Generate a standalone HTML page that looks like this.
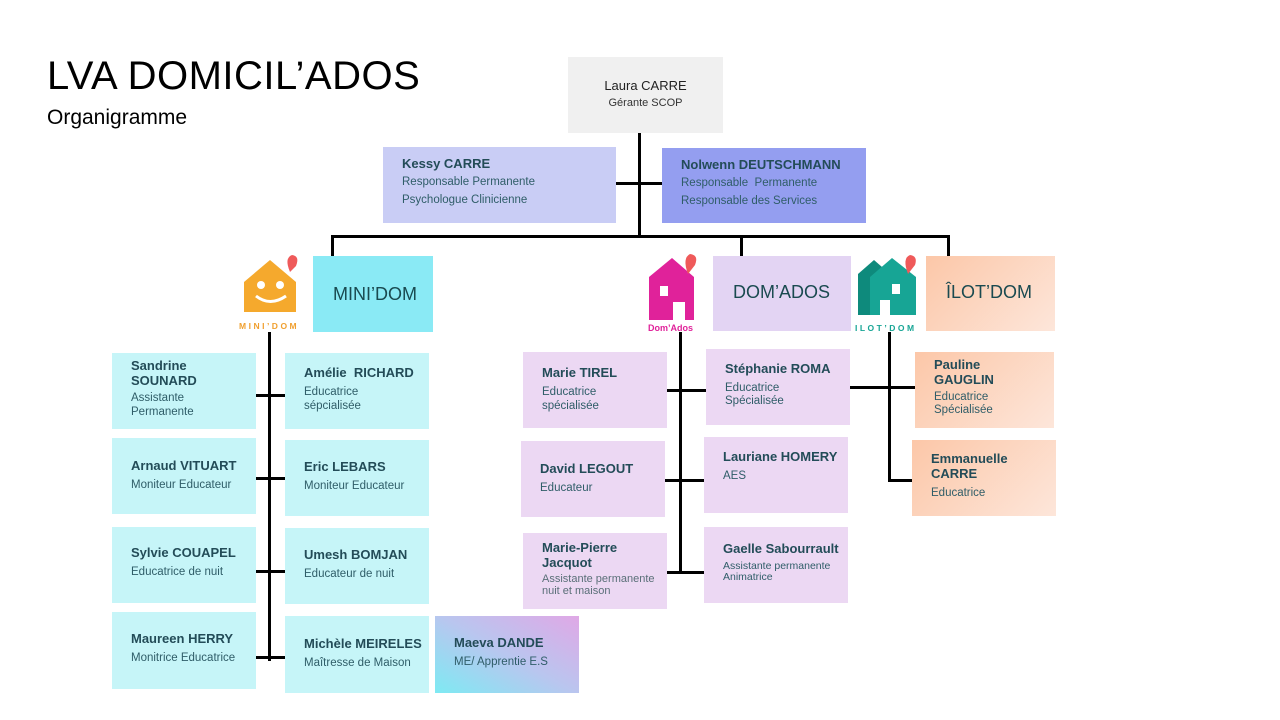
<!DOCTYPE html>
<html><head><meta charset="utf-8">
<style>
*{margin:0;padding:0;box-sizing:border-box}
body{width:1280px;height:720px;background:#fff;position:relative;overflow:hidden;font-family:"Liberation Sans",sans-serif;color:#1f4e5a}
.a{position:absolute}
.b{position:absolute;padding:0 0 0 19px}
.n{font-size:13px;font-weight:bold;color:#234c58;line-height:15px}
.s{font-size:11.5px;color:#2f5d68;line-height:14px;margin-top:5px}
.l{position:absolute;background:#000}
.cy{background:#c6f5f8}
.pu{background:#ecd8f3}
.pe{background:linear-gradient(135deg,#fcc7a8,#fde6da)}
</style></head><body>
<div class="a" style="left:47px;top:54px;font-size:40px;color:#000;letter-spacing:0.5px">LVA DOMICIL’ADOS</div>
<div class="a" style="left:47px;top:106px;font-size:21px;color:#000">Organigramme</div>

<!-- lines -->
<div class="l" style="left:638px;top:133px;width:3px;height:105px"></div>
<div class="l" style="left:616px;top:182px;width:46px;height:3px"></div>
<div class="l" style="left:331px;top:235px;width:619px;height:3px"></div>
<div class="l" style="left:331px;top:235px;width:3px;height:21px"></div>
<div class="l" style="left:740px;top:235px;width:3px;height:21px"></div>
<div class="l" style="left:947px;top:235px;width:3px;height:21px"></div>

<div class="l" style="left:268px;top:332px;width:3px;height:329px"></div>
<div class="l" style="left:256px;top:394px;width:29px;height:3px"></div>
<div class="l" style="left:256px;top:477px;width:29px;height:3px"></div>
<div class="l" style="left:256px;top:570px;width:29px;height:3px"></div>
<div class="l" style="left:256px;top:656px;width:29px;height:3px"></div>

<div class="l" style="left:679px;top:332px;width:3px;height:241px"></div>
<div class="l" style="left:667px;top:389px;width:39px;height:3px"></div>
<div class="l" style="left:665px;top:479px;width:39px;height:3px"></div>
<div class="l" style="left:667px;top:571px;width:37px;height:3px"></div>

<div class="l" style="left:888px;top:332px;width:3px;height:149px"></div>
<div class="l" style="left:850px;top:386px;width:65px;height:3px"></div>
<div class="l" style="left:888px;top:479px;width:24px;height:3px"></div>

<!-- top boxes -->
<div class="a" style="left:568px;top:57px;width:155px;height:76px;background:#f0f0f0;text-align:center">
<div class="n" style="margin-top:21px;font-weight:normal;color:#222">Laura CARRE</div><div class="s" style="margin-top:3px;font-size:11px;color:#333">Gérante SCOP</div></div>
<div class="b" style="left:383px;top:147px;width:233px;height:76px;background:#c9cdf5;padding-top:9px"><div class="n">Kessy CARRE</div><div class="s" style="line-height:18px;margin-top:2px">Responsable Permanente<br>Psychologue Clinicienne</div></div>
<div class="b" style="left:662px;top:148px;width:204px;height:75px;background:#949ef0;padding-top:9px"><div class="n">Nolwenn DEUTSCHMANN</div><div class="s" style="line-height:18px;margin-top:2px">Responsable&nbsp; Permanente<br>Responsable des Services</div></div>

<!-- section headers -->
<div class="a" style="left:313px;top:256px;width:120px;height:76px;background:#8aeaf5;font-size:18px;color:#1a4a50;padding:28px 0 0 20px">MINI’DOM</div>
<div class="a" style="left:713px;top:256px;width:138px;height:75px;background:#e3d4f3;font-size:18px;color:#1a4a50;padding:26px 0 0 20px">DOM’ADOS</div>
<div class="a pe" style="left:926px;top:256px;width:129px;height:75px;font-size:18px;color:#1a4a50;padding:26px 0 0 20px">ÎLOT’DOM</div>

<!-- logos -->
<svg class="a" style="left:236px;top:252px" width="72" height="80">
<polygon points="8,30 34,8 60,30 60,60 8,60" fill="#f5a92d"/>
<circle cx="25" cy="33" r="4" fill="#fff"/><circle cx="44" cy="33" r="4" fill="#fff"/>
<path d="M20 44 Q34 55 50 44" stroke="#fff" stroke-width="3" fill="none"/>
<path d="M54 20 Q48 6 56 3 Q64 4 60 14 Z" fill="#ef5a5a"/>
<text x="3" y="77" font-size="8.5" fill="#f0a030" letter-spacing="2.5" font-weight="bold" font-family="Liberation Sans">MINI’DOM</text>
</svg>
<svg class="a" style="left:644px;top:252px" width="66" height="82">
<polygon points="5,25 28,6 50,25 50,68 5,68" fill="#e0229a"/>
<rect x="16" y="34" width="8" height="10" fill="#fff"/><rect x="29" y="50" width="12" height="18" fill="#fff"/>
<path d="M44 22 Q38 6 46 2 Q55 3 51 13 Z" fill="#ef5a5a"/>
<text x="4" y="79" font-size="9" fill="#e0229a" font-weight="bold" font-family="Liberation Sans">Dom’Ados</text>
</svg>
<svg class="a" style="left:852px;top:252px" width="76" height="82">
<polygon points="6,22 22,8 38,22 38,63 6,63" fill="#0e8a7c"/>
<polygon points="18,25 40,6 64,25 64,63 18,63" fill="#17a595"/>
<rect x="40" y="32" width="8" height="10" fill="#fff"/><rect x="28" y="48" width="10" height="15" fill="#fff"/>
<path d="M56 22 Q50 6 58 3 Q66 4 63 13 Z" fill="#ef5a5a"/>
<text x="3" y="79" font-size="8.5" fill="#17a595" letter-spacing="2.5" font-weight="bold" font-family="Liberation Sans">ILOT’DOM</text>
</svg>

<!-- MINI'DOM -->
<div class="b cy" style="left:112px;top:353px;width:144px;height:76px;padding-top:5px"><div class="n">Sandrine<br>SOUNARD</div><div class="s" style="margin-top:3px">Assistante<br>Permanente</div></div>
<div class="b cy" style="left:112px;top:438px;width:144px;height:76px;padding-top:20px"><div class="n">Arnaud VITUART</div><div class="s">Moniteur Educateur</div></div>
<div class="b cy" style="left:112px;top:527px;width:144px;height:76px;padding-top:18px"><div class="n">Sylvie COUAPEL</div><div class="s">Educatrice de nuit</div></div>
<div class="b cy" style="left:112px;top:612px;width:144px;height:77px;padding-top:19px"><div class="n">Maureen HERRY</div><div class="s">Monitrice Educatrice</div></div>

<div class="b cy" style="left:285px;top:353px;width:144px;height:76px;padding-top:12px"><div class="n">Amélie&nbsp; RICHARD</div><div class="s">Educatrice<br>sépcialisée</div></div>
<div class="b cy" style="left:285px;top:440px;width:144px;height:76px;padding-top:19px"><div class="n">Eric LEBARS</div><div class="s">Moniteur Educateur</div></div>
<div class="b cy" style="left:285px;top:528px;width:144px;height:76px;padding-top:19px"><div class="n">Umesh BOMJAN</div><div class="s">Educateur de nuit</div></div>
<div class="b cy" style="left:285px;top:616px;width:144px;height:77px;padding-top:20px"><div class="n">Michèle MEIRELES</div><div class="s">Maîtresse de Maison</div></div>
<div class="b" style="left:435px;top:616px;width:144px;height:77px;padding-top:19px;background:linear-gradient(30deg,#7eeaf3 0%,#b9c6ef 50%,#e0a8e6 100%)"><div class="n">Maeva DANDE</div><div class="s">ME/ Apprentie E.S</div></div>

<!-- DOM'ADOS -->
<div class="b pu" style="left:523px;top:352px;width:144px;height:76px;padding-top:13px"><div class="n">Marie TIREL</div><div class="s">Educatrice<br>spécialisée</div></div>
<div class="b pu" style="left:521px;top:441px;width:144px;height:76px;padding-top:20px"><div class="n">David LEGOUT</div><div class="s">Educateur</div></div>
<div class="b pu" style="left:523px;top:533px;width:144px;height:76px;padding-top:7px"><div class="n">Marie-Pierre<br>Jacquot</div><div class="s" style="font-size:11px;line-height:12px;margin-top:3px;color:#5a6f78">Assistante permanente<br>nuit et maison</div></div>
<div class="b pu" style="left:706px;top:349px;width:144px;height:76px;padding-top:12px"><div class="n">Stéphanie ROMA</div><div class="s" style="margin-top:6px;line-height:13px">Educatrice<br>Spécialisée</div></div>
<div class="b pu" style="left:704px;top:437px;width:144px;height:76px;padding-top:12px"><div class="n">Lauriane HOMERY</div><div class="s">AES</div></div>
<div class="b pu" style="left:704px;top:527px;width:144px;height:76px;padding-top:14px"><div class="n">Gaelle Sabourrault</div><div class="s" style="font-size:10.5px;line-height:11px;margin-top:5px">Assistante permanente<br>Animatrice</div></div>

<!-- ILOT'DOM -->
<div class="b pe" style="left:915px;top:352px;width:139px;height:76px;padding-top:5px"><div class="n">Pauline<br>GAUGLIN</div><div class="s" style="margin-top:4px;line-height:13px">Educatrice<br>Spécialisée</div></div>
<div class="b pe" style="left:912px;top:440px;width:144px;height:76px;padding-top:11px"><div class="n">Emmanuelle<br>CARRE</div><div class="s">Educatrice</div></div>
</body></html>
